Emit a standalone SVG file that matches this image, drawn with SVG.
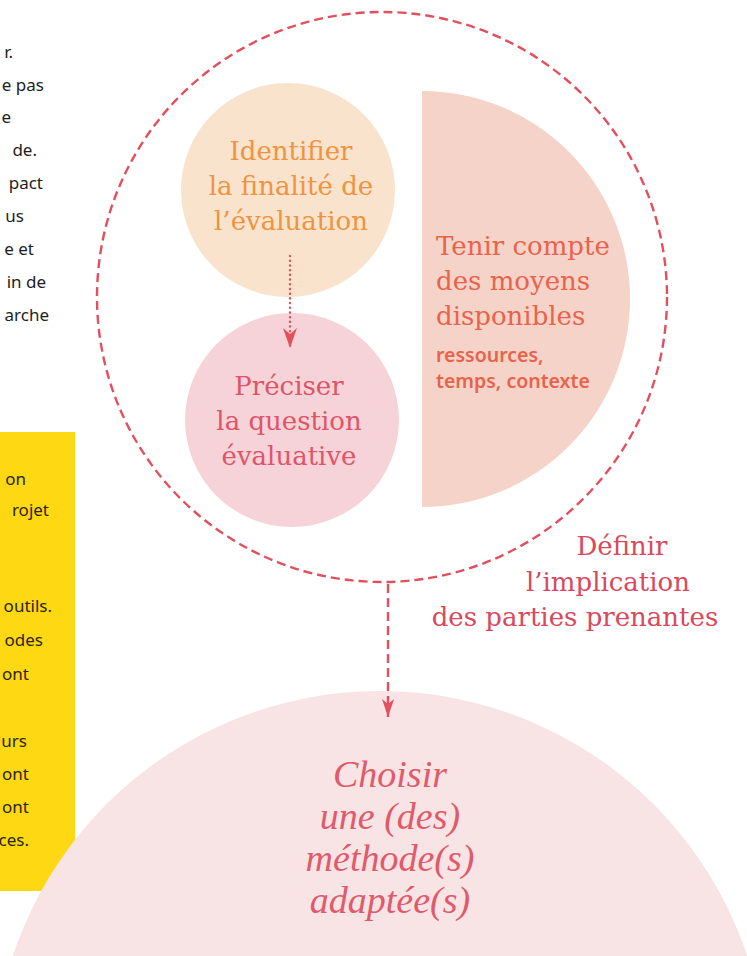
<svg xmlns="http://www.w3.org/2000/svg" width="747" height="956" viewBox="0 0 747 956">
<style>
.body{font-family:"Noto Sans","Open Sans",sans-serif;font-size:17px;fill:#1e1e1e;text-anchor:end}
.ybody{font-family:"Noto Sans","Open Sans",sans-serif;font-size:17px;fill:#2a2510;text-anchor:end}
.serif{font-family:"DejaVu Serif","Liberation Serif",serif;font-size:26px}
.orange{fill:#EE9440}
.rose{fill:#E05468}
.coral{fill:#E8634C}
.red{fill:#D9495C}
.small{font-family:"Noto Sans","Open Sans",sans-serif;font-size:19.5px;font-weight:600;fill:#E8634C}
.script{font-family:"Liberation Serif",serif;font-style:italic;font-size:38px;fill:#E05A6A;text-anchor:middle}
.dash{fill:none;stroke:#E2505E;stroke-width:2.4;stroke-dasharray:9 5}
.dot{fill:none;stroke:#E2505E;stroke-width:2.4;stroke-dasharray:0.1 4.6;stroke-linecap:round}
.head{fill:#E2505E}
</style>
<defs>
<marker id="arrowBig" markerUnits="userSpaceOnUse" markerWidth="16" markerHeight="22" refX="8" refY="20" orient="0" viewBox="0 0 16 22">
<path d="M2,2 L8,20 L14,2 L8,7 Z" class="head"/>
</marker>
<marker id="arrowSmall" markerUnits="userSpaceOnUse" markerWidth="16" markerHeight="24" refX="8" refY="22" orient="0" viewBox="0 0 16 24">
<path d="M1,2 L8,22 L15,2 L8,8 Z" class="head"/>
</marker>
</defs>
<rect width="747" height="956" fill="#ffffff"/>

<g id="left-text">
<text class="body" x="13" y="58">r.</text>
<text class="body" x="44" y="91">e pas</text>
<text class="body" x="11" y="123">e</text>
<text class="body" x="37" y="156">de.</text>
<text class="body" x="43" y="189">pact</text>
<text class="body" x="24" y="222">us</text>
<text class="body" x="34" y="255">e et</text>
<text class="body" x="46" y="288">in de</text>
<text class="body" x="49" y="321">arche</text>
</g>

<g id="yellow-box">
<rect x="0" y="432" width="75" height="459" fill="#FFD814"/>
<text class="ybody" x="26" y="485">on</text>
<text class="ybody" x="49" y="516">rojet</text>
<text class="ybody" x="52" y="612">outils.</text>
<text class="ybody" x="43" y="646">odes</text>
<text class="ybody" x="29" y="680">ont</text>
<text class="ybody" x="27" y="747">urs</text>
<text class="ybody" x="29" y="780">ont</text>
<text class="ybody" x="29" y="813">ont</text>
<text class="ybody" x="29" y="846">ces.</text>
</g>

<g id="node-choisir">
<circle cx="380" cy="1078" r="387" fill="#F8E3E5"/>
<text class="script" x="390" y="787">Choisir</text>
<text class="script" x="390" y="829">une (des)</text>
<text class="script" x="390" y="871">méthode(s)</text>
<text class="script" x="390" y="913">adaptée(s)</text>
</g>

<g id="node-parties-prenantes">
<circle cx="382" cy="297" r="285" class="dash"/>
<text class="serif red" x="622" y="555" text-anchor="middle">Définir</text>
<text class="serif red" x="608" y="591" text-anchor="middle">l’implication</text>
<text class="serif red" x="575" y="626" text-anchor="middle">des parties prenantes</text>
</g>

<g id="node-identifier">
<circle cx="288" cy="190" r="107" fill="#FAE3CC"/>
<text class="serif orange" x="291" y="160" text-anchor="middle">Identifier</text>
<text class="serif orange" x="291" y="195" text-anchor="middle">la finalité de</text>
<text class="serif orange" x="291" y="230" text-anchor="middle">l’évaluation</text>
</g>

<g id="node-preciser">
<circle cx="292" cy="420" r="107" fill="#F6D3D8"/>
<text class="serif rose" x="289" y="395" text-anchor="middle">Préciser</text>
<text class="serif rose" x="289" y="430" text-anchor="middle">la question</text>
<text class="serif rose" x="289" y="465" text-anchor="middle">évaluative</text>
</g>

<g id="node-moyens">
<path d="M422,91 A208,208 0 0 1 422,507 Z" fill="#F6D3C8"/>
<text class="serif coral" x="436" y="255">Tenir compte</text>
<text class="serif coral" x="436" y="290">des moyens</text>
<text class="serif coral" x="436" y="325">disponibles</text>
<text class="small" x="436" y="362">ressources,</text>
<text class="small" x="436" y="388">temps, contexte</text>
</g>

<g id="connectors">
<line x1="290" y1="256" x2="290" y2="348" class="dot" marker-end="url(#arrowSmall)"/>
<line x1="388" y1="584" x2="388" y2="717" class="dash" marker-end="url(#arrowBig)"/>
</g>
</svg>
